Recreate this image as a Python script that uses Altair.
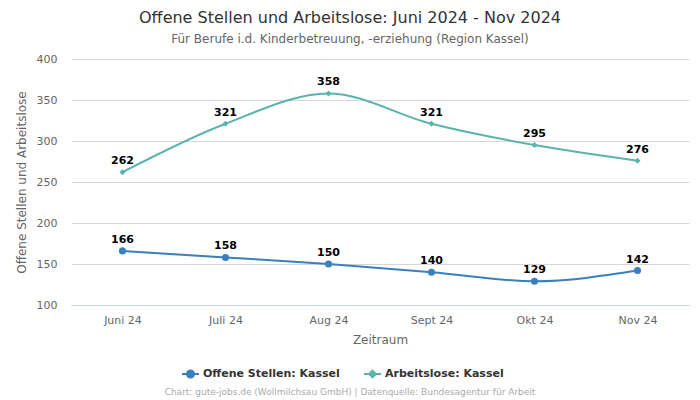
import altair as alt
import pandas as pd

months = ["Juni 24", "Juli 24", "Aug 24", "Sept 24", "Okt 24", "Nov 24"]
offene = [166, 158, 150, 140, 129, 142]
arbeitslose = [262, 321, 358, 321, 295, 276]
series_names = ["Offene Stellen: Kassel", "Arbeitslose: Kassel"]
colors = ["#3a80bd", "#5ab4ac"]

rows = []
for m, v in zip(months, offene):
    rows.append({"Monat": m, "Wert": v, "Serie": series_names[0]})
for m, v in zip(months, arbeitslose):
    rows.append({"Monat": m, "Wert": v, "Serie": series_names[1]})
df = pd.DataFrame(rows)

FONT = "DejaVu Sans"
W, H = 618, 246

x = alt.X("Monat:N", sort=months, scale=alt.Scale(type="point", padding=0.5),
          axis=alt.Axis(title="Zeitraum", labelAngle=0, labelFontSize=11, labelColor="#666666",
                        titleFontSize=12, titleColor="#666666", titleFontWeight="normal",
                        domainColor="#ccd6eb", ticks=False, grid=False, labelPadding=9,
                        titlePadding=9, labelFont=FONT, titleFont=FONT))
y = alt.Y("Wert:Q", scale=alt.Scale(domain=[100, 400], nice=False, zero=False),
          axis=alt.Axis(title="Offene Stellen und Arbeitslose", values=[100, 150, 200, 250, 300, 350, 400],
                        labelFontSize=11, labelColor="#666666", titleFontSize=12, titleColor="#666666",
                        titleFontWeight="normal", domain=False, ticks=False, gridColor="#d6d6d6",
                        labelPadding=14, titlePadding=8, labelFont=FONT, titleFont=FONT))

base = alt.Chart(df)
sel_o = base.transform_filter(alt.datum.Serie == series_names[0])
sel_a = base.transform_filter(alt.datum.Serie == series_names[1])

line_o = sel_o.mark_line(interpolate="monotone", strokeWidth=2, color=colors[0]).encode(x=x, y=y)
line_a = sel_a.mark_line(interpolate="monotone", strokeWidth=2, color=colors[1]).encode(x=x, y=y)

points_o = sel_o.mark_point(filled=True, opacity=1, shape="circle", size=50, color=colors[0]).encode(x=x, y=y)
points_a = sel_a.mark_point(filled=True, opacity=1, shape="diamond", size=36, color=colors[1]).encode(x=x, y=y)

labels = base.mark_text(dy=-11, fontSize=11, fontWeight="bold", color="#000000", font=FONT).encode(
    x=x, y=y, text="Wert:Q")

circle_path = "M-1,0L1,0M-0.42,0A0.42,0.42 0 1,0 0.42,0A0.42,0.42 0 1,0 -0.42,0Z"
diamond_path = "M-1,0L1,0M0,-0.4L0.4,0L0,0.4L-0.4,0Z"

legend_layer = base.transform_filter(alt.datum.Wert < 0).mark_point(filled=True, opacity=1).encode(
    x=x, y=y,
    shape=alt.Shape("Serie:N", scale=alt.Scale(domain=series_names, range=[circle_path, diamond_path]),
                    legend=alt.Legend(title=None, orient="none", legendX=110, legendY=305,
                                      direction="horizontal", symbolSize=289, symbolStrokeWidth=2,
                                      symbolOpacity=1, labelFontSize=11, labelFontWeight="bold",
                                      labelColor="#333333", labelFont=FONT, columnPadding=20,
                                      labelOffset=3)),
    fill=alt.Fill("Serie:N", scale=alt.Scale(domain=series_names, range=colors), legend=alt.Legend(title=None)),
    stroke=alt.Stroke("Serie:N", scale=alt.Scale(domain=series_names, range=colors), legend=alt.Legend(title=None)),
)

footer = alt.Chart(pd.DataFrame({"t": ["Chart: gute-jobs.de (Wollmilchsau GmbH) | Datenquelle: Bundesagentur für Arbeit"]})).mark_text(
    fontSize=9, color="#aaaaaa", font=FONT, baseline="middle", align="center"
).encode(text="t:N", x=alt.value(279), y=alt.value(333))

chart = alt.layer(line_o, line_a, points_o, points_a, labels, legend_layer, footer).properties(
    width=W, height=H,
    padding={"left": 63, "top": 51, "right": 3, "bottom": 92},
    autosize=alt.AutoSizeParams(type="none"),
    title=alt.TitleParams(
        text="Offene Stellen und Arbeitslose: Juni 2024 - Nov 2024",
        subtitle="Für Berufe i.d. Kinderbetreuung, -erziehung (Region Kassel)",
        anchor="middle", dx=-30, fontSize=16, fontWeight="normal", color="#333333", font=FONT,
        subtitleFontSize=12, subtitleColor="#666666", subtitleFont=FONT, subtitlePadding=8, offset=8,
    ),
).configure_view(stroke=None)

chart.save("out.html", embed_options={"renderer": "svg", "actions": False})
